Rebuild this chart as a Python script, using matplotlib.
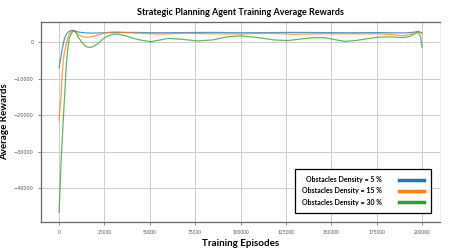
import numpy as np
import matplotlib
matplotlib.use("Agg")
import matplotlib.pyplot as plt

plt.rcParams['font.family'] = ['Lato', 'DejaVu Sans']

# episodes / rewards
ep_blue = [0, 600, 1100, 1600, 2200, 2700, 3300, 4100, 4900, 5800, 6600, 7400, 8200,
           9500, 11000, 14000, 17600, 22000, 28600, 40000, 55000, 70000, 85000, 100000,
           115000, 130000, 145000, 160000, 175000, 190000, 196000, 198000, 200000]
rw_blue = [-7100, -5300, -3800, -2200, -800, 400, 1400, 2200, 2700, 3000, 3150, 3200,
           3150, 2950, 2700, 2550, 2450, 2500, 2600, 2650, 2550, 2600, 2650, 2550,
           2600, 2650, 2600, 2550, 2600, 2500, 2700, 2900, 2500]

ep_orange = [0, 500, 1100, 1500, 2000, 2400, 2900, 3800, 4800, 5700, 6600, 7500, 8500,
             9500, 10800, 12100, 13700, 15400, 18200, 21300, 24000, 26900, 31300, 40000,
             55000, 70000, 85000, 100000, 115000, 130000, 145000, 160000, 175000, 185000,
             189600, 194000, 197800, 200000]
rw_orange = [-21400, -18200, -15000, -10500, -6800, -4600, -3000, -800, 1100, 2200, 2800,
             3100, 2950, 2500, 2000, 1600, 1400, 1300, 1500, 1900, 2300, 2650, 2800, 2500,
             2200, 2400, 2250, 2200, 2400, 2150, 2300, 2250, 2300, 2000, 1700, 2200, 3000,
             2300]

ep_green = [0, 500, 1000, 1500, 1900, 2400, 2900, 3400, 3800, 4200, 4700, 5200, 5600,
            6500, 7400, 8000, 8800, 9500, 10300, 12000, 13900, 15300, 16800, 18500, 20300,
            22300, 24500, 27000, 30000, 33500, 37400, 41000, 45000, 50500, 60000, 67000,
            76200, 84800, 92300, 100000, 108800, 118200, 126100, 131600, 139800, 146300,
            153800, 157400, 163100, 169600, 176800, 183900, 189600, 193000, 195100,
            197800, 199200, 200000]
rw_green = [-46600, -40500, -34000, -29000, -25000, -20500, -16000, -11700, -7700, -4800,
            -2200, -300, 1000, 2100, 2800, 3000, 2900, 2500, 1500, 300, -800, -1300,
            -1450, -1300, -800, 0, 1000, 1700, 2200, 2100, 1600, 1000, 550, 100, 1000, 800,
            300, 600, 1400, 1700, 1300, 600, 400, 750, 1200, 1200, 500, 200, 400, 900, 1400,
            1400, 1200, 1500, 2000, 2700, 1600, -1400]

series_labels = ['Obstacles Density = 5 %', 'Obstacles Density = 15 %',
                 'Obstacles Density = 30 %']
xticks = [0, 25000, 50000, 75000, 100000, 125000, 150000, 175000, 200000]
yticks = [0, -10000, -20000, -30000, -40000]

fig = plt.figure(figsize=(4.5, 2.5), dpi=100)
ax = fig.add_axes([0.091, 0.112, 0.887, 0.8])

ax.plot(ep_blue, rw_blue, color='tab:blue', lw=0.9, alpha=0.75, label=series_labels[0])
ax.plot(ep_orange, rw_orange, color='tab:orange', lw=0.9, alpha=0.75, label=series_labels[1])
ax.plot(ep_green, rw_green, color='tab:green', lw=0.9, alpha=0.75, label=series_labels[2])

ax.set_xlim(-10000, 210000)
ax.set_ylim(-49300, 5500)
ax.set_xticks(xticks)
ax.set_xticklabels([str(t) for t in xticks])
ax.set_yticks(yticks)
ax.set_yticklabels([str(t).replace('-', '\u2212') for t in yticks], family='DejaVu Sans')
ax.tick_params(labelsize=3.5, colors='#555555', length=2, width=0.5)
ax.grid(True, color='#cccccc', lw=0.7)

for s in ['left', 'bottom', 'top']:
    ax.spines[s].set_color('#666666')
    ax.spines[s].set_linewidth(0.9)
ax.spines['right'].set_color('#eeeeee')

ax.set_title('Strategic Planning Agent Training Average Rewards', fontsize=6.5,
             fontweight='bold', pad=5)
ax.set_xlabel('Training Episodes', fontsize=7, fontweight='bold', labelpad=3)
ax.set_ylabel('Average Rewards', fontsize=7, fontweight='bold', labelpad=3)

leg = ax.legend(loc='lower right', bbox_to_anchor=(0.985, 0.03),
                prop={'weight': 'bold', 'size': 5}, markerfirst=False,
                handlelength=3.5, fancybox=False, framealpha=1,
                edgecolor='black', borderpad=1.0, labelspacing=0.6,
                handletextpad=2.5)
leg.get_frame().set_linewidth(0.9)
for line in leg.get_lines():
    line.set_linewidth(2.5)
    line.set_alpha(1)

fig.savefig('out.png', dpi=100)
